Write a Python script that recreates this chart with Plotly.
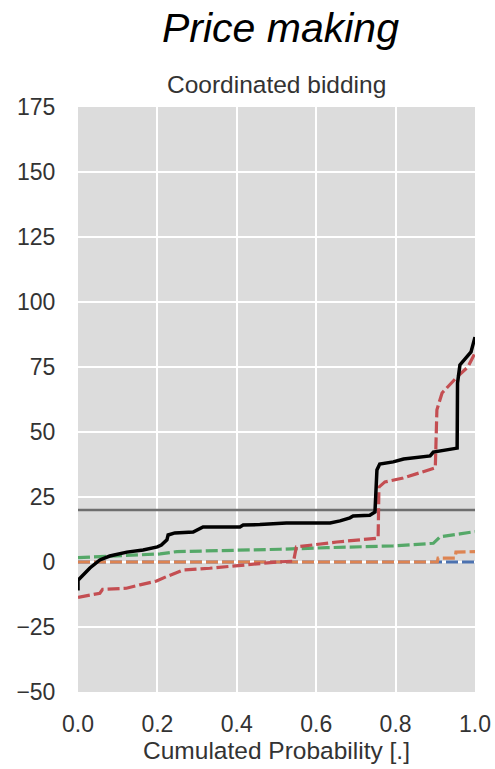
import plotly.graph_objects as go

# Quantile curves of price vs. cumulated probability (coordinated bidding)
prob_black = [0.0, 0.0, 0.03, 0.055, 0.08, 0.123, 0.164, 0.2, 0.21, 0.224, 0.227, 0.244, 0.29, 0.3,
              0.315, 0.408, 0.416, 0.458, 0.525, 0.635, 0.66, 0.685, 0.693, 0.735, 0.748, 0.753,
              0.76, 0.794, 0.82, 0.887, 0.895, 0.955, 0.956, 0.962, 0.982, 0.99, 1.0]
val_black = [-11.0, -7.0, -2.3, 0.8, 2.3, 3.8, 4.6, 5.8, 6.5, 8.5, 10.4, 11.2, 11.5, 12.3,
             13.5, 13.5, 14.2, 14.4, 15.0, 15.0, 15.8, 17.0, 17.7, 18.0, 19.2, 35.4,
             37.7, 38.5, 39.6, 40.8, 42.3, 43.8, 68.8, 75.8, 79.6, 80.8, 86.5]

prob_red = [0.0, 0.055, 0.062, 0.122, 0.156, 0.198, 0.223, 0.265, 0.332, 0.408, 0.509, 0.543,
            0.547, 0.55, 0.652, 0.756, 0.758, 0.773, 0.819, 0.9, 0.904, 0.917, 0.955, 0.982, 1.0]
val_red = [-13.6, -12.0, -10.5, -10.1, -8.8, -7.3, -5.6, -3.1, -2.4, -1.2, 0.1, 0.3,
           3.5, 5.8, 7.7, 9.2, 28.8, 30.8, 32.3, 36.2, 58.5, 65.0, 71.2, 75.0, 80.4]

prob_green = [0.0, 0.088, 0.207, 0.249, 0.375, 0.509, 0.627, 0.794, 0.895, 0.912, 0.962, 1.0]
val_green = [1.7, 2.3, 3.1, 4.0, 4.3, 4.9, 5.5, 6.2, 7.2, 9.7, 10.8, 11.7]

prob_orange = [0.0, 0.905, 0.907, 0.95, 0.952, 1.0]
val_orange = [0.0, 0.0, 1.5, 1.5, 3.8, 4.0]

prob_blue = [0.0, 1.0]
val_blue = [0.0, 0.0]

threshold_x = [0.0, 1.0]
threshold_y = [20, 20]

x_ticks = [0.0, 0.2, 0.4, 0.6, 0.8, 1.0]
y_ticks = [-50, -25, 0, 25, 50, 75, 100, 125, 150, 175]

FONT = "Liberation Sans, Arial, sans-serif"
DASH = "12px,4px"

fig = go.Figure()
fig.add_trace(go.Scatter(x=threshold_x, y=threshold_y, mode="lines",
                         line=dict(color="#6e6e6e", width=2.5)))
fig.add_trace(go.Scatter(x=prob_blue, y=val_blue, mode="lines",
                         line=dict(color="#4C72B0", width=3.2, dash=DASH)))
fig.add_trace(go.Scatter(x=prob_orange, y=val_orange, mode="lines",
                         line=dict(color="#DD8452", width=3.2, dash=DASH)))
fig.add_trace(go.Scatter(x=prob_green, y=val_green, mode="lines",
                         line=dict(color="#55A868", width=3.2, dash=DASH)))
fig.add_trace(go.Scatter(x=prob_red, y=val_red, mode="lines",
                         line=dict(color="#C44E52", width=3.2, dash=DASH)))
fig.add_trace(go.Scatter(x=prob_black, y=val_black, mode="lines",
                         line=dict(color="black", width=3.5)))

fig.update_layout(
    width=495, height=769,
    margin=dict(l=78, r=20, t=107, b=77),
    paper_bgcolor="white",
    plot_bgcolor="#dcdcdc",
    showlegend=False,
    font=dict(family=FONT, size=23, color="#333333"),
    xaxis=dict(range=[0, 1], tickvals=x_ticks, tickformat=".1f", automargin=False,
               showgrid=True, gridcolor="white", gridwidth=2, zeroline=False,
               ticks="outside", ticklen=11, tickcolor="rgba(0,0,0,0)",
               tickfont=dict(size=23),
               title=dict(text="Cumulated Probability [.]", font=dict(size=24.5), standoff=3)),
    yaxis=dict(range=[-50, 175], tickvals=y_ticks, automargin=False,
               showgrid=True, gridcolor="white", gridwidth=2, zeroline=False,
               ticks="outside", ticklen=17, tickcolor="rgba(0,0,0,0)",
               tickfont=dict(size=23)),
    annotations=[
        dict(text="<i>Price making</i>", x=0.51, y=(692 - 28) / 585, xref="paper", yref="paper",
             xanchor="center", yanchor="middle", showarrow=False,
             font=dict(size=41, color="black", family=FONT)),
        dict(text="Coordinated bidding", x=0.5, y=(692 - 85) / 585, xref="paper", yref="paper",
             xanchor="center", yanchor="middle", showarrow=False,
             font=dict(size=24.5, color="#333333", family=FONT)),
    ],
)

fig.write_html("out.html")
